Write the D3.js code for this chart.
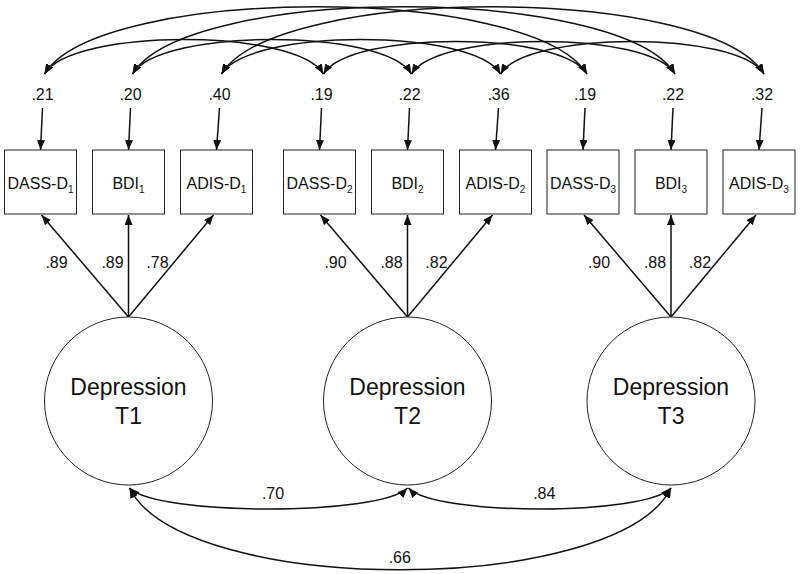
<!DOCTYPE html>
<html>
<head>
<meta charset="utf-8">
<script src="https://cdn.jsdelivr.net/npm/d3@7"></script>
<style>
  body { margin: 0; background: #fff; }
  text { font-family: Arial, "Liberation Sans", sans-serif; fill: #111; }
</style>
</head>
<body>
<div id="chart-area"></div>
<script>
// model values
var times = [1, 2, 3];
var indicators = ["DASS-D", "BDI", "ADIS-D"];
var errorVars = [".21", ".20", ".40", ".19", ".22", ".36", ".19", ".22", ".32"];
var loadings = [".89", ".89", ".78", ".90", ".88", ".82", ".90", ".88", ".82"];
// latent correlations: [from time, to time, value]
var factorCorrs = [[1, 2, ".70"], [2, 3, ".84"], [1, 3, ".66"]];
// correlated residuals: same indicator across times
var errorPairs = [[1, 2], [2, 3], [1, 3]];

var W = 800, H = 574;

var svg = d3.select("#chart-area")
    .append("svg")
        .attr("width", W)
        .attr("height", H);

// where each time group sits, and each indicator within it
var groupX = d3.scaleOrdinal().domain(times).range([128.5, 407.5, 671]);
var indOffset = d3.scaleOrdinal().domain(indicators).range([-88, 0, 88]);
var labelShift = d3.scaleOrdinal().domain(indicators).range([2, 2, 3]);

var boxW = 72, boxH = 64, boxTop = 150;
var circR = 84, circCy = 401;
var errY = 94, arcY = 74;

var nodes = [];
times.forEach(function(t, ti) {
    indicators.forEach(function(ind, ii) {
        var k = ti * indicators.length + ii;
        nodes.push({
            time: t, ind: ind, ii: ii,
            x: groupX(t) + indOffset(ind),
            err: errorVars[k],
            load: loadings[k]
        });
    });
});

var defs = svg.append("defs");
defs.append("marker")
    .attr("id", "arr")
    .attr("markerUnits", "userSpaceOnUse")
    .attr("viewBox", "0 0 10 8")
    .attr("refX", 10).attr("refY", 4)
    .attr("markerWidth", 10).attr("markerHeight", 8)
    .attr("orient", "auto-start-reverse")
  .append("path")
    .attr("d", "M0,0L10,4L0,8z")
    .attr("fill", "#111");

// cubic arc between two x's at height y, bulging by k (negative = up)
function arc(x1, x2, y, k) {
    var s = x2 - x1;
    return "M" + x1 + "," + y +
        "C" + (x1 + 0.1 * s) + "," + (y + k) + " " +
        (x2 - 0.1 * s) + "," + (y + k) + " " + x2 + "," + y;
}

// residual covariance arcs on top
var topArcs = [];
indicators.forEach(function(ind) {
    errorPairs.forEach(function(p) {
        var a = nodes.find(function(n) { return n.ind === ind && n.time === p[0]; });
        var b = nodes.find(function(n) { return n.ind === ind && n.time === p[1]; });
        topArcs.push([a, b]);
    });
});

svg.selectAll("path.cov-top")
    .data(topArcs)
    .enter()
    .append("path")
        .attr("class", "cov-top")
        .attr("d", function(d) {
            var x1 = d[0].x + labelShift(d[0].ind) + 2;
            var x2 = d[1].x + labelShift(d[1].ind) + 2;
            return arc(x1, x2, arcY, -0.165 * (x2 - x1));
        })
        .attr("fill", "none")
        .attr("stroke", "#111")
        .attr("stroke-width", 1.5)
        .attr("marker-start", "url(#arr)")
        .attr("marker-end", "url(#arr)");

// error variance labels + arrows
svg.selectAll("text.err")
    .data(nodes)
    .enter()
    .append("text")
        .attr("class", "err")
        .attr("x", function(d) { return d.x + labelShift(d.ind); })
        .attr("y", errY + 6)
        .attr("text-anchor", "middle")
        .attr("font-size", 16)
        .text(function(d) { return d.err; });

svg.selectAll("line.err")
    .data(nodes)
    .enter()
    .append("line")
        .attr("class", "err")
        .attr("x1", function(d) { return d.x + labelShift(d.ind); })
        .attr("y1", 108)
        .attr("x2", function(d) { return d.x; })
        .attr("y2", boxTop)
        .attr("stroke", "#111")
        .attr("stroke-width", 1.5)
        .attr("marker-end", "url(#arr)");

// indicator boxes
svg.selectAll("rect.box")
    .data(nodes)
    .enter()
    .append("rect")
        .attr("class", "box")
        .attr("x", function(d) { return d.x - boxW / 2; })
        .attr("y", boxTop)
        .attr("width", boxW)
        .attr("height", boxH)
        .attr("fill", "#fff")
        .attr("stroke", "#222")
        .attr("stroke-width", 1);

var boxLabels = svg.selectAll("text.box")
    .data(nodes)
    .enter()
    .append("text")
        .attr("class", "box")
        .attr("x", function(d) { return d.x; })
        .attr("y", boxTop + 39)
        .attr("text-anchor", "middle")
        .attr("font-size", 16);
boxLabels.append("tspan").text(function(d) { return d.ind; });
boxLabels.append("tspan")
    .attr("font-size", 10)
    .attr("dy", 4)
    .text(function(d) { return d.time; });

// loading arrows from latent factor to indicators
var loadY = 262;
var loadDx = d3.scaleOrdinal().domain(indicators).range([-25, -16, -18]);
svg.selectAll("line.load")
    .data(nodes)
    .enter()
    .append("line")
        .attr("class", "load")
        .attr("x1", function(d) { return groupX(d.time); })
        .attr("y1", circCy - circR)
        .attr("x2", function(d) { return d.x + (d.ii === 0 ? 1 : d.ii === 2 ? -3 : 0); })
        .attr("y2", boxTop + boxH + 1)
        .attr("stroke", "#111")
        .attr("stroke-width", 1.5)
        .attr("marker-end", "url(#arr)");

svg.selectAll("text.load")
    .data(nodes)
    .enter()
    .append("text")
        .attr("class", "load")
        .attr("x", function(d) {
            var x1 = groupX(d.time), y1 = circCy - circR;
            var x2 = d.x, y2 = boxTop + boxH;
            var lx = x1 + (x2 - x1) * (y1 - loadY) / (y1 - y2);
            return lx + loadDx(d.ind);
        })
        .attr("y", loadY + 6)
        .attr("text-anchor", "middle")
        .attr("font-size", 16)
        .text(function(d) { return d.load; });

// latent factors
svg.selectAll("circle.lat")
    .data(times)
    .enter()
    .append("circle")
        .attr("class", "lat")
        .attr("cx", function(d) { return groupX(d); })
        .attr("cy", circCy)
        .attr("r", circR)
        .attr("fill", "#fff")
        .attr("stroke", "#222")
        .attr("stroke-width", 1);

var latLabels = svg.selectAll("text.lat")
    .data(times)
    .enter()
    .append("text")
        .attr("class", "lat")
        .attr("text-anchor", "middle")
        .attr("font-size", 23);
latLabels.append("tspan")
    .attr("x", function(d) { return groupX(d); })
    .attr("y", 395)
    .text("Depression");
latLabels.append("tspan")
    .attr("x", function(d) { return groupX(d); })
    .attr("y", 424)
    .text(function(d) { return "T" + d; });

// factor correlations underneath
var botY = circCy + circR + 3;
var botDepth = function(d) { return Math.abs(d[1] - d[0]) > 1 ? 109 : 28; };
svg.selectAll("path.cov-bot")
    .data(factorCorrs)
    .enter()
    .append("path")
        .attr("class", "cov-bot")
        .attr("d", function(d) {
            return arc(groupX(d[0]) + 1, groupX(d[1]), botY, botDepth(d));
        })
        .attr("fill", "none")
        .attr("stroke", "#111")
        .attr("stroke-width", 1.5)
        .attr("marker-start", "url(#arr)")
        .attr("marker-end", "url(#arr)");

svg.selectAll("text.cov-bot")
    .data(factorCorrs)
    .enter()
    .append("text")
        .attr("class", "cov-bot")
        .attr("x", function(d) {
            var mid = (groupX(d[0]) + groupX(d[1])) / 2;
            return Math.abs(d[1] - d[0]) > 1 ? mid : mid + 5;
        })
        .attr("y", function(d) { return Math.abs(d[1] - d[0]) > 1 ? 563 : 499; })
        .attr("text-anchor", "middle")
        .attr("font-size", 16)
        .text(function(d) { return d[2]; });
</script>
</body>
</html>
